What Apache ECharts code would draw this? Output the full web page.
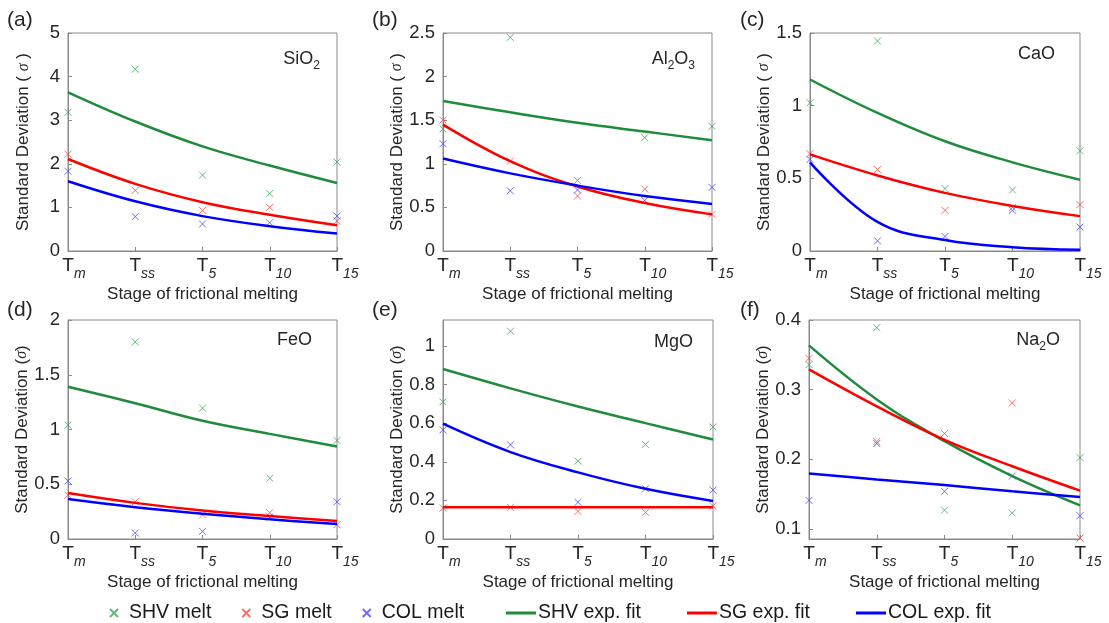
<!DOCTYPE html>
<html><head><meta charset="utf-8">
<script src="https://cdn.jsdelivr.net/npm/echarts@6/dist/echarts.min.js"></script>
<style>html,body{margin:0;padding:0;background:#fff}#c{width:1109px;height:623px}</style>
</head><body><div id="c"></div>
<script>
// stage tick labels (T + subscript) and their positions
const stageSubs = ['m', 'ss', '5', '10', '15'];
const stagePos = [0, 1, 2, 3, 4];

// (a) SiO2
const sio2Shv = [3.18, 4.17, 1.74, 1.32, 2.04];
const sio2Sg = [2.22, 1.39, 0.93, 1.00, 0.69];
const sio2Col = [1.83, 0.79, 0.62, 0.65, 0.80];
const sio2ShvFit = [3.64, 2.97, 2.40, 1.96, 1.56];
const sio2SgFit = [2.11, 1.54, 1.12, 0.83, 0.59];
const sio2ColFit = [1.60, 1.14, 0.80, 0.57, 0.40];
// (b) Al2O3
const al2o3Shv = [1.40, 2.45, 0.81, 1.30, 1.43];
const al2o3Sg = [1.50, 1.03, 0.63, 0.71, 0.42];
const al2o3Col = [1.23, 0.69, 0.70, 0.58, 0.73];
const al2o3ShvFit = [1.72, 1.59, 1.47, 1.37, 1.27];
const al2o3SgFit = [1.45, 1.03, 0.74, 0.55, 0.42];
const al2o3ColFit = [1.06, 0.89, 0.75, 0.63, 0.54];
// (c) CaO
const caoShv = [1.02, 1.445, 0.43, 0.42, 0.69];
const caoSg = [0.67, 0.56, 0.28, 0.30, 0.32];
const caoCol = [0.63, 0.07, 0.10, 0.28, 0.165];
const caoShvFit = [1.18, 0.95, 0.755, 0.61, 0.49];
const caoSgFit = [0.665, 0.52, 0.40, 0.31, 0.24];
const caoColFit = [0.61, 0.20, 0.075, 0.026, 0.008];
// (d) FeO
const feoShv = [1.04, 1.80, 1.195, 0.556, 0.90];
const feoSg = [0.40, 0.34, 0.22, 0.24, 0.13];
const feoCol = [0.53, 0.055, 0.07, 0.20, 0.34];
const feoShvFit = [1.39, 1.24, 1.08, 0.96, 0.845];
const feoSgFit = [0.42, 0.33, 0.26, 0.21, 0.164];
const feoColFit = [0.365, 0.29, 0.23, 0.18, 0.137];
// (e) MgO
const mgoShv = [0.71, 1.076, 0.403, 0.49, 0.58];
const mgoSg = [0.16, 0.164, 0.143, 0.138, 0.172];
const mgoCol = [0.565, 0.488, 0.19, 0.26, 0.253];
const mgoShvFit = [0.88, 0.78, 0.686, 0.60, 0.515];
const mgoSgFit = [0.165, 0.165, 0.165, 0.165, 0.165];
const mgoColFit = [0.597, 0.45, 0.345, 0.26, 0.197];
// (f) Na2O
const na2oShv = [0.336, 0.389, 0.127, 0.123, 0.2025];
const na2oSg = [0.345, 0.2255, 0.237, 0.281, 0.087];
const na2oCol = [0.141, 0.2227, 0.154, 0.176, 0.119];
const na2oShvFit = [0.3635, 0.286, 0.226, 0.176, 0.134];
const na2oSgFit = [0.329, 0.276, 0.228, 0.19, 0.155];
const na2oColFit = [0.1795, 0.171, 0.163, 0.154, 0.146];

const FONT = "'Liberation Sans', Arial, sans-serif";
const TXT = '#262626';
const AX = '#8a8a8a';
const X_PATH = 'path://M0,0L10,10M10,0L0,10';
const COL = {
  shvM: '#3aa860', sgM: '#ff4a4a', colM: '#4a4aff',
  shvL: '#1f8b3b', sgL: '#ff0000', colL: '#0000ff'
};

const panels = [
  { grid: {left: 68, top: 33, width: 269, height: 218}, ymin: 0, ymax: 5, yint: 1,
    d: [sio2Shv, sio2Sg, sio2Col, sio2ShvFit, sio2SgFit, sio2ColFit],
    tag: '(a)', tagPos: {left: 7, top: 10}, name: '{n|SiO}{s|2}', namePos: {right: 789, top: 50},
    yName: 'Standard Deviation ( {g|σ} )' },
  { grid: {left: 443, top: 33, width: 269, height: 218}, ymin: 0, ymax: 2.5, yint: 0.5,
    d: [al2o3Shv, al2o3Sg, al2o3Col, al2o3ShvFit, al2o3SgFit, al2o3ColFit],
    tag: '(b)', tagPos: {left: 372, top: 10}, name: '{n|Al}{s|2}{n|O}{s|3}', namePos: {right: 414, top: 50},
    yName: 'Standard Deviation ( {g|σ} )' },
  { grid: {left: 810, top: 33, width: 270, height: 218}, ymin: 0, ymax: 1.5, yint: 0.5,
    d: [caoShv, caoSg, caoCol, caoShvFit, caoSgFit, caoColFit],
    tag: '(c)', tagPos: {left: 740, top: 10}, name: '{n|CaO}', namePos: {right: 54, top: 45},
    yName: 'Standard Deviation ( {g|σ} )' },
  { grid: {left: 68, top: 320, width: 269, height: 219}, ymin: 0, ymax: 2, yint: 0.5,
    d: [feoShv, feoSg, feoCol, feoShvFit, feoSgFit, feoColFit],
    tag: '(d)', tagPos: {left: 7, top: 300}, name: '{n|FeO}', namePos: {right: 797, top: 331},
    yName: 'Standard Deviation ({g|σ})' },
  { grid: {left: 443, top: 320, width: 270, height: 219}, ymin: 0, ymax: 1.134, yint: 0.2,
    d: [mgoShv, mgoSg, mgoCol, mgoShvFit, mgoSgFit, mgoColFit],
    tag: '(e)', tagPos: {left: 372, top: 300}, name: '{n|MgO}', namePos: {right: 416, top: 333},
    yName: 'Standard Deviation ({g|σ})' },
  { grid: {left: 809, top: 320, width: 271, height: 219}, ymin: 0.0856, ymax: 0.4, yint: null,
    d: [na2oShv, na2oSg, na2oCol, na2oShvFit, na2oSgFit, na2oColFit],
    tag: '(f)', tagPos: {left: 740, top: 300}, name: '{n|Na}{s|2}{n|O}', namePos: {right: 49, top: 331},
    yName: 'Standard Deviation ({g|σ})' }
];

const subW = [12, 14, 8, 16, 16];
const xRich = { s: {fontSize: 14, fontStyle: 'italic', fontFamily: FONT, color: TXT, verticalAlign: 'top', padding: [11, 0, 0, 0]} };
stageSubs.forEach((s, i) => {
  xRich['t' + i] = {fontSize: 19, fontFamily: FONT, color: TXT, verticalAlign: 'top', padding: [0, 0, 0, subW[i]]};
});

const pairs = v => stagePos.map((x, i) => [x, v[i]]);

const grids = [], xAxes = [], yAxes = [], series = [], titles = [];
panels.forEach((p, k) => {
  grids.push(Object.assign({show: true, borderColor: AX, borderWidth: 1, backgroundColor: 'transparent'}, p.grid));
  xAxes.push({
    type: 'value', gridIndex: k, min: 0, max: 4, interval: 1,
    axisLine: {show: true, lineStyle: {color: AX, width: 1}},
    axisTick: {show: true, inside: true, length: 4, lineStyle: {color: AX}},
    splitLine: {show: false},
    axisLabel: {margin: 5, formatter: v => { const i = Math.round(v); return '{t' + i + '|T}{s|' + stageSubs[i] + '}'; }, rich: xRich},
    name: 'Stage of frictional melting', nameLocation: 'middle', nameGap: 35,
    nameTextStyle: {fontSize: 17, fontFamily: FONT, color: TXT}
  });
  const ya = {
    type: 'value', gridIndex: k, min: p.ymin, max: p.ymax,
    axisLine: {show: true, lineStyle: {color: AX, width: 1}},
    axisTick: {show: true, inside: true, length: 4, lineStyle: {color: AX}},
    splitLine: {show: false},
    axisLabel: {fontSize: 18.5, fontFamily: FONT, color: TXT, margin: 8,
      showMaxLabel: p.ymax === 1.134 ? false : true, showMinLabel: p.yint === null ? false : true},
    name: p.yName, nameLocation: 'middle', nameGap: 36,
    nameTextStyle: {fontSize: 17, fontFamily: FONT, color: TXT,
      rich: {g: {fontSize: 16, fontFamily: "'Liberation Serif', serif", fontStyle: 'italic', color: TXT}}}
  };
  if (p.yint !== null) ya.interval = p.yint; else ya.splitNumber = 3;
  yAxes.push(ya);
  const names = ['SHV melt', 'SG melt', 'COL melt', 'SHV exp. fit', 'SG exp. fit', 'COL exp. fit'];
  const cols = [COL.shvM, COL.sgM, COL.colM, COL.shvL, COL.sgL, COL.colL];
  for (let j = 0; j < 3; j++) {
    series.push({
      name: names[j], type: 'scatter', xAxisIndex: k, yAxisIndex: k, z: 2,
      symbol: X_PATH, symbolSize: 7,
      itemStyle: {color: 'rgba(0,0,0,0)', borderColor: cols[j], borderWidth: 1},
      data: pairs(p.d[j])
    });
  }
  for (let j = 3; j < 6; j++) {
    series.push({
      name: names[j], type: 'line', xAxisIndex: k, yAxisIndex: k, z: 3,
      smooth: 0.4, symbol: 'none', showSymbol: false,
      lineStyle: {color: cols[j], width: 2.5}, itemStyle: {color: cols[j]},
      data: pairs(p.d[j])
    });
  }
  titles.push(Object.assign({text: p.tag, padding: 0, textStyle: {fontSize: 21, fontWeight: 'normal', fontFamily: FONT, color: TXT}}, p.tagPos));
  titles.push(Object.assign({text: p.name, padding: 0, textStyle: {fontSize: 18, fontWeight: 'normal', fontFamily: FONT, color: TXT,
    rich: {n: {fontSize: 18, fontFamily: FONT, color: TXT, verticalAlign: 'top'},
           s: {fontSize: 12, fontFamily: FONT, color: TXT, verticalAlign: 'top', padding: [10, 0, 0, 0]}}}}, p.namePos));
});

const chart = echarts.init(document.getElementById('c'), null, {renderer: 'canvas'});
chart.setOption({
  animation: false,
  backgroundColor: '#fff',
  title: titles,
  grid: grids, xAxis: xAxes, yAxis: yAxes, series: series,
  legend: [
    {data: ['SHV melt', 'SG melt', 'COL melt'], left: 104, top: 598, itemWidth: 8, itemHeight: 8, itemGap: 30,
     textStyle: {fontSize: 19.5, fontFamily: FONT, color: '#1a1a1a', padding: [0, 0, 0, 6]}},
    {data: ['SHV exp. fit', 'SG exp. fit', 'COL exp. fit'], left: 501, top: 598, itemWidth: 30, itemHeight: 3, itemGap: 46,
     icon: 'rect',
     textStyle: {fontSize: 19.5, fontFamily: FONT, color: '#1a1a1a', padding: [0, 0, 0, -3]}}
  ]
});
</script></body></html>
